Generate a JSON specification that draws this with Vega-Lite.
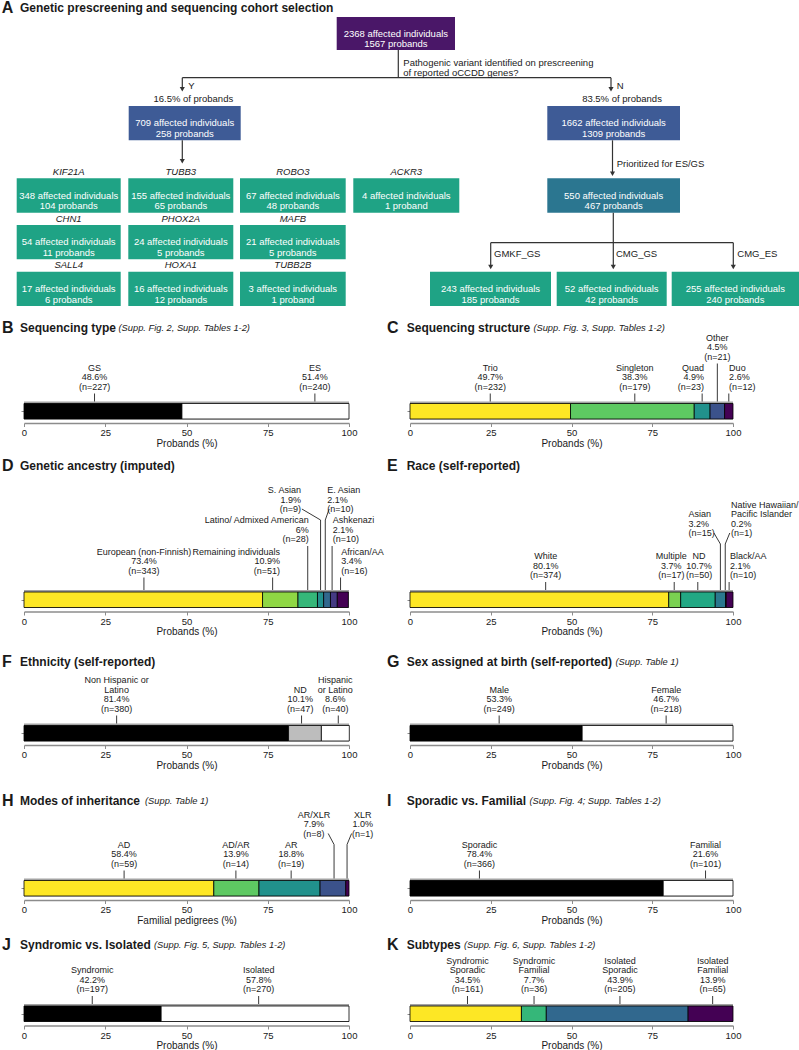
{
"$schema": "https://vega.github.io/schema/vega-lite/v6.json",
"padding": 0,
"background": "white",
"columns": 4,
"spacing": 0,
"bounds": "flush",
"resolve": {"scale": {"color": "independent"}},
"config": {
  "view": {"stroke": null},
  "font": "Liberation Sans",
  "text": {"font": "Liberation Sans", "color": "#1a1a1a", "lineBreak": "\n"},
  "axis": {"grid": false, "domainColor": "#8c8c8c", "tickColor": "#8c8c8c", "labelFont": "Liberation Sans", "labelFontSize": 9.5, "labelColor": "#1a1a1a", "titleFont": "Liberation Sans", "titleFontSize": 10, "titleFontWeight": "normal", "titleColor": "#1a1a1a", "labelFlush": false, "labelOverlap": false},
  "style": {
    "lbl": {"fontSize": 9, "baseline": "bottom", "lineHeight": 9.6},
    "ttl": {"fontSize": 12, "fontWeight": "bold", "baseline": "middle", "align": "left"},
    "let": {"fontSize": 16, "fontWeight": "bold", "baseline": "middle", "align": "left"},
    "note": {"fontSize": 9.3, "fontStyle": "italic", "baseline": "middle", "align": "left"},
    "lead": {"color": "#222222", "strokeWidth": 0.9}
  }
},
"datasets": {
  "bars": [
    {"panel":"B","idx":1,"cat":"GS","pct":48.6,"plab":"48.6%","n":227,"tier":1,"al":"c","at":21.7},
    {"panel":"B","idx":2,"cat":"ES","pct":51.4,"plab":"51.4%","n":240,"tier":1,"al":"c","at":89.5},
    {"panel":"C","idx":1,"cat":"Trio","pct":49.7,"plab":"49.7%","n":232,"tier":1,"al":"c"},
    {"panel":"C","idx":2,"cat":"Singleton","pct":38.3,"plab":"38.3%","n":179,"tier":1,"al":"c","at":69.6},
    {"panel":"C","idx":3,"cat":"Quad","pct":4.9,"plab":"4.9%","n":23,"tier":1,"al":"r","tx":91.0},
    {"panel":"C","idx":4,"cat":"Other","pct":4.5,"plab":"4.5%","n":21,"tier":2,"al":"c"},
    {"panel":"C","idx":5,"cat":"Duo","pct":2.6,"plab":"2.6%","n":12,"tier":1,"al":"l","tx":98.8},
    {"panel":"D","idx":1,"cat":"European (non-Finnish)","pct":73.4,"plab":"73.4%","n":343,"tier":1.15,"al":"c","at":36.9},
    {"panel":"D","idx":2,"cat":"Remaining individuals","pct":10.9,"plab":"10.9%","n":51,"tier":1.15,"al":"r","at":76.5,"tx":78.8},
    {"panel":"D","idx":3,"cat":"Latino/ Admixed American","pct":6,"plab":"6%","n":28,"tier":2.2,"al":"r","tx":87.6},
    {"panel":"D","idx":4,"cat":"S. Asian","pct":1.9,"plab":"1.9%","n":9,"tier":3.2,"al":"r","kx":85.5,"tx":85.2},
    {"panel":"D","idx":5,"cat":"E. Asian","pct":2.1,"plab":"2.1%","n":10,"tier":3.2,"al":"l","at":92.7,"kx":93.9,"tx":93.3},
    {"panel":"D","idx":6,"cat":"Ashkenazi","pct":2.1,"plab":"2.1%","n":10,"tier":2.2,"al":"l","at":94.8,"tx":95.0},
    {"panel":"D","idx":7,"cat":"African/AA","pct":3.4,"plab":"3.4%","n":16,"tier":1.15,"al":"l","at":97.4,"tx":97.6},
    {"panel":"E","idx":1,"cat":"White","pct":80.1,"plab":"80.1%","n":374,"tier":1,"al":"c","at":42.0},
    {"panel":"E","idx":2,"cat":"Multiple","pct":3.7,"plab":"3.7%","n":17,"tier":1,"al":"c","at":81.8,"tx":80.9},
    {"panel":"E","idx":3,"cat":"ND","pct":10.7,"plab":"10.7%","n":50,"tier":1,"al":"c","at":89.1,"tx":89.5},
    {"panel":"E","idx":4,"cat":"Asian","pct":3.2,"plab":"3.2%","n":15,"tier":2.4,"al":"l","kx":94.1,"tx":86.2},
    {"panel":"E","idx":5,"cat":"Native Hawaiian/\nPacific Islander","pct":0.2,"plab":"0.2%","n":1,"tier":2.4,"al":"l","at":97.6,"kx":99.0,"tx":99.4},
    {"panel":"E","idx":6,"cat":"Black/AA","pct":2.1,"plab":"2.1%","n":10,"tier":1,"al":"l","at":98.8,"tx":99.1},
    {"panel":"F","idx":1,"cat":"Non Hispanic or\nLatino","pct":81.4,"plab":"81.4%","n":380,"tier":1,"al":"c","at":28.5},
    {"panel":"F","idx":2,"cat":"ND","pct":10.1,"plab":"10.1%","n":47,"tier":1,"al":"c","at":85.4,"tx":85.0},
    {"panel":"F","idx":3,"cat":"Hispanic\nor Latino","pct":8.6,"plab":"8.6%","n":40,"tier":1,"al":"c","at":96.7,"tx":95.8},
    {"panel":"G","idx":1,"cat":"Male","pct":53.3,"plab":"53.3%","n":249,"tier":1,"al":"c","at":27.6},
    {"panel":"G","idx":2,"cat":"Female","pct":46.7,"plab":"46.7%","n":218,"tier":1,"al":"c","at":79.3},
    {"panel":"H","idx":1,"cat":"AD","pct":58.4,"plab":"58.4%","n":59,"tier":1,"al":"c","at":30.8},
    {"panel":"H","idx":2,"cat":"AD/AR","pct":13.9,"plab":"13.9%","n":14,"tier":1,"al":"c","at":65.2},
    {"panel":"H","idx":3,"cat":"AR","pct":18.8,"plab":"18.8%","n":19,"tier":1,"al":"c","at":82.2},
    {"panel":"H","idx":4,"cat":"AR/XLR","pct":7.9,"plab":"7.9%","n":8,"tier":2,"al":"c","at":95.4,"kx":93.6,"tx":89.2},
    {"panel":"H","idx":5,"cat":"XLR","pct":1.0,"plab":"1.0%","n":1,"tier":2,"al":"c","at":99.4,"kx":100.8,"tx":104.2},
    {"panel":"I","idx":1,"cat":"Sporadic","pct":78.4,"plab":"78.4%","n":366,"tier":1,"al":"c","at":21.5},
    {"panel":"I","idx":2,"cat":"Familial","pct":21.6,"plab":"21.6%","n":101,"tier":1,"al":"c","at":91.5},
    {"panel":"J","idx":1,"cat":"Syndromic","pct":42.2,"plab":"42.2%","n":197,"tier":1,"al":"c","at":21.0},
    {"panel":"J","idx":2,"cat":"Isolated","pct":57.8,"plab":"57.8%","n":270,"tier":1,"al":"c","at":72.2},
    {"panel":"K","idx":1,"cat":"Syndromic\nSporadic","pct":34.5,"plab":"34.5%","n":161,"tier":1,"al":"c","at":17.8},
    {"panel":"K","idx":2,"cat":"Syndromic\nFamilial","pct":7.7,"plab":"7.7%","n":36,"tier":1,"al":"c","at":38.4},
    {"panel":"K","idx":3,"cat":"Isolated\nSporadic","pct":43.9,"plab":"43.9%","n":205,"tier":1,"al":"c","at":65.0},
    {"panel":"K","idx":4,"cat":"Isolated\nFamilial","pct":13.9,"plab":"13.9%","n":65,"tier":1,"al":"c","at":93.7}
  ],
  "nodes": [
    {"kind":"all","x1":336.7,"x2":455,"y1":16,"y2":49,"l1":"2368 affected individuals","l2":"1567 probands"},
    {"kind":"pre","x1":128.7,"x2":240.7,"y1":105,"y2":139.3,"l1":"709 affected individuals","l2":"258 probands"},
    {"kind":"pre","x1":547.3,"x2":680,"y1":105,"y2":139.3,"l1":"1662 affected individuals","l2":"1309 probands"},
    {"kind":"prio","x1":547.3,"x2":680,"y1":177.3,"y2":211.7,"l1":"550 affected individuals","l2":"467 probands"},
    {"kind":"grp","gene":"KIF21A","x1":16.7,"x2":120.7,"y1":177.3,"y2":211.7,"l1":"348 affected individuals","l2":"104 probands"},
    {"kind":"grp","gene":"TUBB3","x1":128.3,"x2":233.3,"y1":177.3,"y2":211.7,"l1":"155 affected individuals","l2":"65 probands"},
    {"kind":"grp","gene":"ROBO3","x1":240,"x2":345.7,"y1":177.3,"y2":211.7,"l1":"67 affected individuals","l2":"48 probands"},
    {"kind":"grp","gene":"ACKR3","x1":353.3,"x2":459.3,"y1":177.3,"y2":211.7,"l1":"4 affected individuals","l2":"1 proband"},
    {"kind":"grp","gene":"CHN1","x1":16.7,"x2":120.7,"y1":224,"y2":258.3,"l1":"54 affected individuals","l2":"11 probands"},
    {"kind":"grp","gene":"PHOX2A","x1":128.3,"x2":233.3,"y1":224,"y2":258.3,"l1":"24 affected individuals","l2":"5 probands"},
    {"kind":"grp","gene":"MAFB","x1":240,"x2":345.7,"y1":224,"y2":258.3,"l1":"21 affected individuals","l2":"5 probands"},
    {"kind":"grp","gene":"SALL4","x1":16.7,"x2":120.7,"y1":270.7,"y2":305,"l1":"17 affected individuals","l2":"6 probands"},
    {"kind":"grp","gene":"HOXA1","x1":128.3,"x2":233.3,"y1":270.7,"y2":305,"l1":"16 affected individuals","l2":"12 probands"},
    {"kind":"grp","gene":"TUBB2B","x1":240,"x2":345.7,"y1":270.7,"y2":305,"l1":"3 affected individuals","l2":"1 proband"},
    {"kind":"grp","x1":430,"x2":551,"y1":270.7,"y2":305,"l1":"243 affected individuals","l2":"185 probands"},
    {"kind":"grp","x1":556.7,"x2":666.7,"y1":270.7,"y2":305,"l1":"52 affected individuals","l2":"42 probands"},
    {"kind":"grp","x1":671.7,"x2":799,"y1":270.7,"y2":305,"l1":"255 affected individuals","l2":"240 probands"}
  ],
  "edges": [
    {"x":398.3,"y":49,"x2":398.3,"y2":76.7,"arrow":false},
    {"x":182.3,"y":76.7,"x2":611,"y2":76.7,"arrow":false},
    {"x":182.3,"y":76.7,"x2":182.3,"y2":88.2,"arrow":true},
    {"x":611,"y":76.7,"x2":611,"y2":88.2,"arrow":true},
    {"x":182.3,"y":139.3,"x2":182.3,"y2":160.3,"arrow":true},
    {"x":612.5,"y":139.3,"x2":612.5,"y2":172.7,"arrow":true},
    {"x":613.3,"y":211.7,"x2":613.3,"y2":241.7,"arrow":false},
    {"x":490.7,"y":241.7,"x2":733.3,"y2":241.7,"arrow":false},
    {"x":490.7,"y":241.7,"x2":490.7,"y2":266,"arrow":true},
    {"x":613.3,"y":241.7,"x2":613.3,"y2":266,"arrow":true},
    {"x":733.3,"y":241.7,"x2":733.3,"y2":266,"arrow":true}
  ],
  "ftext": [
    {"t":"Pathogenic variant identified on prescreening\nof reported oCCDD genes?","x":403.3,"y":62.3,"al":"l"},
    {"t":"Y","x":188.3,"y":85,"al":"l"},
    {"t":"N","x":616.7,"y":85,"al":"l"},
    {"t":"16.5% of probands","x":193.3,"y":97.7,"al":"c"},
    {"t":"83.5% of probands","x":622,"y":97.7,"al":"c"},
    {"t":"Prioritized for ES/GS","x":616.7,"y":163.3,"al":"l"},
    {"t":"GMKF_GS","x":494,"y":252.7,"al":"l"},
    {"t":"CMG_GS","x":616,"y":252.7,"al":"l"},
    {"t":"CMG_ES","x":737.3,"y":252.7,"al":"l"}
  ]
},
"concat": [
{
  "width": 24, "height": 306,
  "layer": [
    {"data": {"name": "nodes"}, "mark": {"type": "rect"},
     "encoding": {
       "x": {"field": "x1", "type": "quantitative", "scale": {"domain": [0, 24]}, "axis": null},
       "x2": {"field": "x2"},
       "y": {"field": "y1", "type": "quantitative", "scale": {"domain": [0, 306], "reverse": true}, "axis": null},
       "y2": {"field": "y2"},
       "color": {"field": "kind", "type": "nominal", "scale": {"domain": ["all", "pre", "prio", "grp"], "range": ["#4a1768", "#3e5b96", "#2b7690", "#1fa385"]}, "legend": null}}},
    {"data": {"name": "nodes"},
     "transform": [{"calculate": "(datum.x1 + datum.x2) / 2", "as": "cx"}, {"calculate": "(datum.y1 + datum.y2) / 2", "as": "cy"}, {"calculate": "datum.l1 + '\\n' + datum.l2", "as": "t"}],
     "mark": {"type": "text", "color": "white", "fontSize": 9.5, "lineHeight": 10.7, "baseline": "middle", "align": "center"},
     "encoding": {
       "x": {"field": "cx", "type": "quantitative", "scale": {"domain": [0, 24]}, "axis": null},
       "y": {"field": "cy", "type": "quantitative", "scale": {"domain": [0, 306], "reverse": true}, "axis": null},
       "text": {"field": "t"}}},
    {"data": {"name": "nodes"},
     "transform": [{"filter": "isValid(datum.gene)"}, {"calculate": "(datum.x1 + datum.x2) / 2", "as": "cx"}, {"calculate": "datum.y1 - 6.3", "as": "gy"}],
     "mark": {"type": "text", "fontStyle": "italic", "fontSize": 9.5, "baseline": "middle", "align": "center"},
     "encoding": {
       "x": {"field": "cx", "type": "quantitative", "scale": {"domain": [0, 24]}, "axis": null},
       "y": {"field": "gy", "type": "quantitative", "scale": {"domain": [0, 306], "reverse": true}, "axis": null},
       "text": {"field": "gene"}}},
    {"data": {"name": "edges"}, "mark": {"type": "rule", "color": "#333333", "strokeWidth": 1.2},
     "encoding": {
       "x": {"field": "x", "type": "quantitative", "scale": {"domain": [0, 24]}, "axis": null},
       "x2": {"field": "x2"},
       "y": {"field": "y", "type": "quantitative", "scale": {"domain": [0, 306], "reverse": true}, "axis": null},
       "y2": {"field": "y2"}}},
    {"data": {"name": "edges"}, "transform": [{"filter": "datum.arrow"}],
     "mark": {"type": "point", "shape": "triangle-down", "filled": true, "color": "#333333", "size": 26, "opacity": 1},
     "encoding": {
       "x": {"field": "x2", "type": "quantitative", "scale": {"domain": [0, 24]}, "axis": null},
       "y": {"field": "y2", "type": "quantitative", "scale": {"domain": [0, 306], "reverse": true}, "axis": null}}},
    {"data": {"name": "ftext"}, "transform": [{"filter": "datum.al === 'l'"}],
     "mark": {"type": "text", "align": "left", "baseline": "middle", "fontSize": 9.5, "lineHeight": 10},
     "encoding": {
       "x": {"field": "x", "type": "quantitative", "scale": {"domain": [0, 24]}, "axis": null},
       "y": {"field": "y", "type": "quantitative", "scale": {"domain": [0, 306], "reverse": true}, "axis": null},
       "text": {"field": "t"}}},
    {"data": {"name": "ftext"}, "transform": [{"filter": "datum.al === 'c'"}],
     "mark": {"type": "text", "align": "center", "baseline": "middle", "fontSize": 9.5},
     "encoding": {
       "x": {"field": "x", "type": "quantitative", "scale": {"domain": [0, 24]}, "axis": null},
       "y": {"field": "y", "type": "quantitative", "scale": {"domain": [0, 306], "reverse": true}, "axis": null},
       "text": {"field": "t"}}},
    {"data": {"values": [{"px": 0, "py": 7.3}]}, "mark": {"type": "text", "style": "let", "dx": 1.7},
     "encoding": {
       "x": {"field": "px", "type": "quantitative", "scale": {"domain": [0, 24]}, "axis": null},
       "y": {"field": "py", "type": "quantitative", "scale": {"domain": [0, 306], "reverse": true}, "axis": null},
       "text": {"value": "A"}}},
    {"data": {"values": [{"px": 0, "py": 7.3}]}, "mark": {"type": "text", "style": "ttl", "dx": 20},
     "encoding": {
       "x": {"field": "px", "type": "quantitative", "scale": {"domain": [0, 24]}, "axis": null},
       "y": {"field": "py", "type": "quantitative", "scale": {"domain": [0, 306], "reverse": true}, "axis": null},
       "text": {"value": "Genetic prescreening and sequencing cohort selection"}}}
  ]
},
{"width": 1, "height": 1, "data": {"values": []}, "mark": "point"},
{"width": 1, "height": 1, "data": {"values": []}, "mark": "point"},
{"width": 1, "height": 1, "data": {"values": []}, "mark": "point"},
{"width": 24, "height": 116, "data": {"values": []}, "mark": "point"},
{
  "width": 325, "height": 116,
  "data": {"name": "bars"},
  "transform": [
    {"filter": "datum.panel === 'B'"},
    {"stack": "pct", "groupby": ["panel"], "sort": [{"field": "idx", "order": "ascending"}], "as": ["x0", "x1"]},
    {"calculate": "isValid(datum.at) ? datum.at : (datum.x0 + datum.x1) / 2", "as": "ax"},
    {"calculate": "isValid(datum.tx) ? datum.tx : datum.ax", "as": "lx"},
    {"calculate": "30 * (datum.tier - 1)", "as": "up"},
    {"calculate": "(isValid(datum.kx) ? 25.5 : 29.5) + datum.up", "as": "yk"},
    {"calculate": "datum.cat + '\\n' + datum.plab + '\\n(n=' + datum.n + ')'", "as": "lab"},
    {"calculate": "31 + datum.up + 9.6 * (length(split(datum.lab, '\\n')) - 1)", "as": "yt"},
    {"calculate": "0", "as": "f0"}, {"calculate": "100", "as": "f1"},
    {"calculate": "3.5", "as": "g0"}, {"calculate": "21.5", "as": "g1"},
    {"calculate": "4", "as": "b0"}, {"calculate": "19.5", "as": "b1"},
    {"calculate": "95", "as": "ty"}
  ],
  "layer": [
    {"transform": [{"filter": "datum.idx === 1"}], "mark": {"type": "rect", "color": "#a3a3a3"},
     "encoding": {"x": {"field": "f0", "type": "quantitative", "scale": {"domain": [0, 100]}}, "x2": {"field": "f1"},
                  "y": {"field": "g0", "type": "quantitative", "scale": {"domain": [0, 116]}}, "y2": {"field": "g1"}}},
    {"mark": {"type": "rect", "stroke": "#000000", "strokeWidth": 0.8},
     "encoding": {
       "x": {"field": "x0", "type": "quantitative", "scale": {"domain": [0, 100]}, "axis": {"values": [0, 25, 50, 75, 100], "title": "Probands (%)", "tickSize": 3.5, "labelPadding": 1, "titlePadding": 1, "domainWidth": 1.4}},
       "x2": {"field": "x1"},
       "y": {"field": "b0", "type": "quantitative", "scale": {"domain": [0, 116]}, "axis": {"values": [11.75], "labels": false, "domain": false, "tickSize": 3, "title": null}},
       "y2": {"field": "b1"},
       "color": {"field": "idx", "type": "nominal", "scale": {"domain": [1, 2], "range": ["#000000", "#ffffff"]}, "legend": null}}},
    {"mark": {"type": "rule", "style": "lead"},
     "encoding": {"x": {"field": "ax", "type": "quantitative", "scale": {"domain": [0, 100]}},
                  "y": {"field": "g1", "type": "quantitative", "scale": {"domain": [0, 116]}}, "y2": {"field": "yk"}}},
    {"transform": [{"filter": "datum.al === 'c'"}], "mark": {"type": "text", "style": "lbl", "align": "center"},
     "encoding": {"x": {"field": "lx", "type": "quantitative", "scale": {"domain": [0, 100]}},
                  "y": {"field": "yt", "type": "quantitative", "scale": {"domain": [0, 116]}}, "text": {"field": "lab"}}},
    {"transform": [{"filter": "datum.idx === 1"}], "mark": {"type": "text", "style": "let", "dx": -22},
     "encoding": {"x": {"field": "f0", "type": "quantitative", "scale": {"domain": [0, 100]}},
                  "y": {"field": "ty", "type": "quantitative", "scale": {"domain": [0, 116]}}, "text": {"value": "B"}}},
    {"transform": [{"filter": "datum.idx === 1"}], "mark": {"type": "text", "style": "ttl", "dx": -4},
     "encoding": {"x": {"field": "f0", "type": "quantitative", "scale": {"domain": [0, 100]}},
                  "y": {"field": "ty", "type": "quantitative", "scale": {"domain": [0, 116]}}, "text": {"value": "Sequencing type"}}},
    {"transform": [{"filter": "datum.idx === 1"}], "mark": {"type": "text", "style": "note", "dx": 94.5},
     "encoding": {"x": {"field": "f0", "type": "quantitative", "scale": {"domain": [0, 100]}},
                  "y": {"field": "ty", "type": "quantitative", "scale": {"domain": [0, 116]}}, "text": {"value": "(Supp. Fig. 2, Supp. Tables 1-2)"}}}
  ]
},
{"width": 61, "height": 116, "data": {"values": []}, "mark": "point"},
{
  "width": 323, "height": 116,
  "data": {"name": "bars"},
  "transform": [
    {"filter": "datum.panel === 'C'"},
    {"stack": "pct", "groupby": ["panel"], "sort": [{"field": "idx", "order": "ascending"}], "as": ["x0", "x1"]},
    {"calculate": "isValid(datum.at) ? datum.at : (datum.x0 + datum.x1) / 2", "as": "ax"},
    {"calculate": "isValid(datum.tx) ? datum.tx : datum.ax", "as": "lx"},
    {"calculate": "30 * (datum.tier - 1)", "as": "up"},
    {"calculate": "(isValid(datum.kx) ? 25.5 : 29.5) + datum.up", "as": "yk"},
    {"calculate": "datum.cat + '\\n' + datum.plab + '\\n(n=' + datum.n + ')'", "as": "lab"},
    {"calculate": "31 + datum.up + 9.6 * (length(split(datum.lab, '\\n')) - 1)", "as": "yt"},
    {"calculate": "0", "as": "f0"}, {"calculate": "100", "as": "f1"},
    {"calculate": "3.5", "as": "g0"}, {"calculate": "21.5", "as": "g1"},
    {"calculate": "4", "as": "b0"}, {"calculate": "19.5", "as": "b1"},
    {"calculate": "95", "as": "ty"}
  ],
  "layer": [
    {"transform": [{"filter": "datum.idx === 1"}], "mark": {"type": "rect", "color": "#a3a3a3"},
     "encoding": {"x": {"field": "f0", "type": "quantitative", "scale": {"domain": [0, 100]}}, "x2": {"field": "f1"},
                  "y": {"field": "g0", "type": "quantitative", "scale": {"domain": [0, 116]}}, "y2": {"field": "g1"}}},
    {"mark": {"type": "rect", "stroke": "#000000", "strokeWidth": 0.8},
     "encoding": {
       "x": {"field": "x0", "type": "quantitative", "scale": {"domain": [0, 100]}, "axis": {"values": [0, 25, 50, 75, 100], "title": "Probands (%)", "tickSize": 3.5, "labelPadding": 1, "titlePadding": 1, "domainWidth": 1.4}},
       "x2": {"field": "x1"},
       "y": {"field": "b0", "type": "quantitative", "scale": {"domain": [0, 116]}, "axis": {"values": [11.75], "labels": false, "domain": false, "tickSize": 3, "title": null}},
       "y2": {"field": "b1"},
       "color": {"field": "idx", "type": "nominal", "scale": {"domain": [1, 2, 3, 4, 5], "range": ["#FDE725", "#5EC962", "#21918C", "#3B528B", "#440154"]}, "legend": null}}},
    {"mark": {"type": "rule", "style": "lead"},
     "encoding": {"x": {"field": "ax", "type": "quantitative", "scale": {"domain": [0, 100]}},
                  "y": {"field": "g1", "type": "quantitative", "scale": {"domain": [0, 116]}}, "y2": {"field": "yk"}}},
    {"transform": [{"filter": "datum.al === 'c'"}], "mark": {"type": "text", "style": "lbl", "align": "center"},
     "encoding": {"x": {"field": "lx", "type": "quantitative", "scale": {"domain": [0, 100]}},
                  "y": {"field": "yt", "type": "quantitative", "scale": {"domain": [0, 116]}}, "text": {"field": "lab"}}},
    {"transform": [{"filter": "datum.al === 'l'"}], "mark": {"type": "text", "style": "lbl", "align": "left"},
     "encoding": {"x": {"field": "lx", "type": "quantitative", "scale": {"domain": [0, 100]}},
                  "y": {"field": "yt", "type": "quantitative", "scale": {"domain": [0, 116]}}, "text": {"field": "lab"}}},
    {"transform": [{"filter": "datum.al === 'r'"}], "mark": {"type": "text", "style": "lbl", "align": "right"},
     "encoding": {"x": {"field": "lx", "type": "quantitative", "scale": {"domain": [0, 100]}},
                  "y": {"field": "yt", "type": "quantitative", "scale": {"domain": [0, 116]}}, "text": {"field": "lab"}}},
    {"transform": [{"filter": "datum.idx === 1"}], "mark": {"type": "text", "style": "let", "dx": -23},
     "encoding": {"x": {"field": "f0", "type": "quantitative", "scale": {"domain": [0, 100]}},
                  "y": {"field": "ty", "type": "quantitative", "scale": {"domain": [0, 116]}}, "text": {"value": "C"}}},
    {"transform": [{"filter": "datum.idx === 1"}], "mark": {"type": "text", "style": "ttl", "dx": -3.3},
     "encoding": {"x": {"field": "f0", "type": "quantitative", "scale": {"domain": [0, 100]}},
                  "y": {"field": "ty", "type": "quantitative", "scale": {"domain": [0, 116]}}, "text": {"value": "Sequencing structure"}}},
    {"transform": [{"filter": "datum.idx === 1"}], "mark": {"type": "text", "style": "note", "dx": 123.4},
     "encoding": {"x": {"field": "f0", "type": "quantitative", "scale": {"domain": [0, 100]}},
                  "y": {"field": "ty", "type": "quantitative", "scale": {"domain": [0, 116]}}, "text": {"value": "(Supp. Fig. 3, Supp. Tables 1-2)"}}}
  ]
},
{"width": 24, "height": 188.5, "data": {"values": []}, "mark": "point"},
{
  "width": 325, "height": 188.5,
  "data": {"name": "bars"},
  "transform": [
    {"filter": "datum.panel === 'D'"},
    {"stack": "pct", "groupby": ["panel"], "sort": [{"field": "idx", "order": "ascending"}], "as": ["x0", "x1"]},
    {"calculate": "isValid(datum.at) ? datum.at : (datum.x0 + datum.x1) / 2", "as": "ax"},
    {"calculate": "isValid(datum.tx) ? datum.tx : datum.ax", "as": "lx"},
    {"calculate": "30 * (datum.tier - 1)", "as": "up"},
    {"calculate": "(isValid(datum.kx) ? 25.5 : 29.5) + datum.up", "as": "yk"},
    {"calculate": "isValid(datum.kx) ? datum.kx : datum.ax", "as": "ex"},
    {"calculate": "36.5 + datum.up", "as": "ye"},
    {"calculate": "datum.cat + '\\n' + datum.plab + '\\n(n=' + datum.n + ')'", "as": "lab"},
    {"calculate": "31 + datum.up + 9.6 * (length(split(datum.lab, '\\n')) - 1)", "as": "yt"},
    {"calculate": "0", "as": "f0"}, {"calculate": "100", "as": "f1"},
    {"calculate": "3.5", "as": "g0"}, {"calculate": "21.5", "as": "g1"},
    {"calculate": "4", "as": "b0"}, {"calculate": "19.5", "as": "b1"},
    {"calculate": "145.5", "as": "ty"}
  ],
  "layer": [
    {"transform": [{"filter": "datum.idx === 1"}], "mark": {"type": "rect", "color": "#a3a3a3"},
     "encoding": {"x": {"field": "f0", "type": "quantitative", "scale": {"domain": [0, 100]}}, "x2": {"field": "f1"},
                  "y": {"field": "g0", "type": "quantitative", "scale": {"domain": [0, 188.5]}}, "y2": {"field": "g1"}}},
    {"mark": {"type": "rect", "stroke": "#000000", "strokeWidth": 0.8},
     "encoding": {
       "x": {"field": "x0", "type": "quantitative", "scale": {"domain": [0, 100]}, "axis": {"values": [0, 25, 50, 75, 100], "title": "Probands (%)", "tickSize": 3.5, "labelPadding": 1, "titlePadding": 1, "domainWidth": 1.4}},
       "x2": {"field": "x1"},
       "y": {"field": "b0", "type": "quantitative", "scale": {"domain": [0, 188.5]}, "axis": {"values": [11.75], "labels": false, "domain": false, "tickSize": 3, "title": null}},
       "y2": {"field": "b1"},
       "color": {"field": "idx", "type": "nominal", "scale": {"domain": [1, 2, 3, 4, 5, 6, 7], "range": ["#FDE725", "#8FD744", "#35B779", "#21908D", "#31688E", "#443A83", "#440154"]}, "legend": null}}},
    {"mark": {"type": "rule", "style": "lead"},
     "encoding": {"x": {"field": "ax", "type": "quantitative", "scale": {"domain": [0, 100]}},
                  "y": {"field": "g1", "type": "quantitative", "scale": {"domain": [0, 188.5]}}, "y2": {"field": "yk"}}},
    {"transform": [{"filter": "isValid(datum.kx)"}], "mark": {"type": "rule", "style": "lead"},
     "encoding": {"x": {"field": "ax", "type": "quantitative", "scale": {"domain": [0, 100]}}, "x2": {"field": "ex"},
                  "y": {"field": "yk", "type": "quantitative", "scale": {"domain": [0, 188.5]}}, "y2": {"field": "ye"}}},
    {"transform": [{"filter": "datum.al === 'c'"}], "mark": {"type": "text", "style": "lbl", "align": "center"},
     "encoding": {"x": {"field": "lx", "type": "quantitative", "scale": {"domain": [0, 100]}},
                  "y": {"field": "yt", "type": "quantitative", "scale": {"domain": [0, 188.5]}}, "text": {"field": "lab"}}},
    {"transform": [{"filter": "datum.al === 'l'"}], "mark": {"type": "text", "style": "lbl", "align": "left"},
     "encoding": {"x": {"field": "lx", "type": "quantitative", "scale": {"domain": [0, 100]}},
                  "y": {"field": "yt", "type": "quantitative", "scale": {"domain": [0, 188.5]}}, "text": {"field": "lab"}}},
    {"transform": [{"filter": "datum.al === 'r'"}], "mark": {"type": "text", "style": "lbl", "align": "right"},
     "encoding": {"x": {"field": "lx", "type": "quantitative", "scale": {"domain": [0, 100]}},
                  "y": {"field": "yt", "type": "quantitative", "scale": {"domain": [0, 188.5]}}, "text": {"field": "lab"}}},
    {"transform": [{"filter": "datum.idx === 1"}], "mark": {"type": "text", "style": "let", "dx": -22},
     "encoding": {"x": {"field": "f0", "type": "quantitative", "scale": {"domain": [0, 100]}},
                  "y": {"field": "ty", "type": "quantitative", "scale": {"domain": [0, 188.5]}}, "text": {"value": "D"}}},
    {"transform": [{"filter": "datum.idx === 1"}], "mark": {"type": "text", "style": "ttl", "dx": -4},
     "encoding": {"x": {"field": "f0", "type": "quantitative", "scale": {"domain": [0, 100]}},
                  "y": {"field": "ty", "type": "quantitative", "scale": {"domain": [0, 188.5]}}, "text": {"value": "Genetic ancestry (imputed)"}}}
  ]
},
{"width": 61, "height": 188.5, "data": {"values": []}, "mark": "point"},
{
  "width": 323, "height": 188.5,
  "data": {"name": "bars"},
  "transform": [
    {"filter": "datum.panel === 'E'"},
    {"stack": "pct", "groupby": ["panel"], "sort": [{"field": "idx", "order": "ascending"}], "as": ["x0", "x1"]},
    {"calculate": "isValid(datum.at) ? datum.at : (datum.x0 + datum.x1) / 2", "as": "ax"},
    {"calculate": "isValid(datum.tx) ? datum.tx : datum.ax", "as": "lx"},
    {"calculate": "30 * (datum.tier - 1)", "as": "up"},
    {"calculate": "(isValid(datum.kx) ? 25.5 : 29.5) + datum.up", "as": "yk"},
    {"calculate": "isValid(datum.kx) ? datum.kx : datum.ax", "as": "ex"},
    {"calculate": "36.5 + datum.up", "as": "ye"},
    {"calculate": "datum.cat + '\\n' + datum.plab + '\\n(n=' + datum.n + ')'", "as": "lab"},
    {"calculate": "31 + datum.up + 9.6 * (length(split(datum.lab, '\\n')) - 1)", "as": "yt"},
    {"calculate": "0", "as": "f0"}, {"calculate": "100", "as": "f1"},
    {"calculate": "3.5", "as": "g0"}, {"calculate": "21.5", "as": "g1"},
    {"calculate": "4", "as": "b0"}, {"calculate": "19.5", "as": "b1"},
    {"calculate": "145.5", "as": "ty"}
  ],
  "layer": [
    {"transform": [{"filter": "datum.idx === 1"}], "mark": {"type": "rect", "color": "#a3a3a3"},
     "encoding": {"x": {"field": "f0", "type": "quantitative", "scale": {"domain": [0, 100]}}, "x2": {"field": "f1"},
                  "y": {"field": "g0", "type": "quantitative", "scale": {"domain": [0, 188.5]}}, "y2": {"field": "g1"}}},
    {"mark": {"type": "rect", "stroke": "#000000", "strokeWidth": 0.8},
     "encoding": {
       "x": {"field": "x0", "type": "quantitative", "scale": {"domain": [0, 100]}, "axis": {"values": [0, 25, 50, 75, 100], "title": "Probands (%)", "tickSize": 3.5, "labelPadding": 1, "titlePadding": 1, "domainWidth": 1.4}},
       "x2": {"field": "x1"},
       "y": {"field": "b0", "type": "quantitative", "scale": {"domain": [0, 188.5]}, "axis": {"values": [11.75], "labels": false, "domain": false, "tickSize": 3, "title": null}},
       "y2": {"field": "b1"},
       "color": {"field": "idx", "type": "nominal", "scale": {"domain": [1, 2, 3, 4, 5, 6], "range": ["#FDE725", "#7AD151", "#22A884", "#2A788E", "#414487", "#440154"]}, "legend": null}}},
    {"mark": {"type": "rule", "style": "lead"},
     "encoding": {"x": {"field": "ax", "type": "quantitative", "scale": {"domain": [0, 100]}},
                  "y": {"field": "g1", "type": "quantitative", "scale": {"domain": [0, 188.5]}}, "y2": {"field": "yk"}}},
    {"transform": [{"filter": "isValid(datum.kx)"}], "mark": {"type": "rule", "style": "lead"},
     "encoding": {"x": {"field": "ax", "type": "quantitative", "scale": {"domain": [0, 100]}}, "x2": {"field": "ex"},
                  "y": {"field": "yk", "type": "quantitative", "scale": {"domain": [0, 188.5]}}, "y2": {"field": "ye"}}},
    {"transform": [{"filter": "datum.al === 'c'"}], "mark": {"type": "text", "style": "lbl", "align": "center"},
     "encoding": {"x": {"field": "lx", "type": "quantitative", "scale": {"domain": [0, 100]}},
                  "y": {"field": "yt", "type": "quantitative", "scale": {"domain": [0, 188.5]}}, "text": {"field": "lab"}}},
    {"transform": [{"filter": "datum.al === 'l'"}], "mark": {"type": "text", "style": "lbl", "align": "left"},
     "encoding": {"x": {"field": "lx", "type": "quantitative", "scale": {"domain": [0, 100]}},
                  "y": {"field": "yt", "type": "quantitative", "scale": {"domain": [0, 188.5]}}, "text": {"field": "lab"}}},
    {"transform": [{"filter": "datum.idx === 1"}], "mark": {"type": "text", "style": "let", "dx": -23},
     "encoding": {"x": {"field": "f0", "type": "quantitative", "scale": {"domain": [0, 100]}},
                  "y": {"field": "ty", "type": "quantitative", "scale": {"domain": [0, 188.5]}}, "text": {"value": "E"}}},
    {"transform": [{"filter": "datum.idx === 1"}], "mark": {"type": "text", "style": "ttl", "dx": -3.3},
     "encoding": {"x": {"field": "f0", "type": "quantitative", "scale": {"domain": [0, 100]}},
                  "y": {"field": "ty", "type": "quantitative", "scale": {"domain": [0, 188.5]}}, "text": {"value": "Race (self-reported)"}}}
  ]
},
{"width": 24, "height": 133, "data": {"values": []}, "mark": "point"},
{
  "width": 325, "height": 133,
  "data": {"name": "bars"},
  "transform": [
    {"filter": "datum.panel === 'F'"},
    {"stack": "pct", "groupby": ["panel"], "sort": [{"field": "idx", "order": "ascending"}], "as": ["x0", "x1"]},
    {"calculate": "isValid(datum.at) ? datum.at : (datum.x0 + datum.x1) / 2", "as": "ax"},
    {"calculate": "isValid(datum.tx) ? datum.tx : datum.ax", "as": "lx"},
    {"calculate": "30 * (datum.tier - 1)", "as": "up"},
    {"calculate": "(isValid(datum.kx) ? 25.5 : 29.5) + datum.up", "as": "yk"},
    {"calculate": "datum.cat + '\\n' + datum.plab + '\\n(n=' + datum.n + ')'", "as": "lab"},
    {"calculate": "31 + datum.up + 9.6 * (length(split(datum.lab, '\\n')) - 1)", "as": "yt"},
    {"calculate": "0", "as": "f0"}, {"calculate": "100", "as": "f1"},
    {"calculate": "3.5", "as": "g0"}, {"calculate": "21.5", "as": "g1"},
    {"calculate": "4", "as": "b0"}, {"calculate": "19.5", "as": "b1"},
    {"calculate": "83.5", "as": "ty"}
  ],
  "layer": [
    {"transform": [{"filter": "datum.idx === 1"}], "mark": {"type": "rect", "color": "#a3a3a3"},
     "encoding": {"x": {"field": "f0", "type": "quantitative", "scale": {"domain": [0, 100]}}, "x2": {"field": "f1"},
                  "y": {"field": "g0", "type": "quantitative", "scale": {"domain": [0, 133]}}, "y2": {"field": "g1"}}},
    {"mark": {"type": "rect", "stroke": "#000000", "strokeWidth": 0.8},
     "encoding": {
       "x": {"field": "x0", "type": "quantitative", "scale": {"domain": [0, 100]}, "axis": {"values": [0, 25, 50, 75, 100], "title": "Probands (%)", "tickSize": 3.5, "labelPadding": 1, "titlePadding": 1, "domainWidth": 1.4}},
       "x2": {"field": "x1"},
       "y": {"field": "b0", "type": "quantitative", "scale": {"domain": [0, 133]}, "axis": {"values": [11.75], "labels": false, "domain": false, "tickSize": 3, "title": null}},
       "y2": {"field": "b1"},
       "color": {"field": "idx", "type": "nominal", "scale": {"domain": [1, 2, 3], "range": ["#000000", "#bdbdbd", "#ffffff"]}, "legend": null}}},
    {"mark": {"type": "rule", "style": "lead"},
     "encoding": {"x": {"field": "ax", "type": "quantitative", "scale": {"domain": [0, 100]}},
                  "y": {"field": "g1", "type": "quantitative", "scale": {"domain": [0, 133]}}, "y2": {"field": "yk"}}},
    {"transform": [{"filter": "datum.al === 'c'"}], "mark": {"type": "text", "style": "lbl", "align": "center"},
     "encoding": {"x": {"field": "lx", "type": "quantitative", "scale": {"domain": [0, 100]}},
                  "y": {"field": "yt", "type": "quantitative", "scale": {"domain": [0, 133]}}, "text": {"field": "lab"}}},
    {"transform": [{"filter": "datum.idx === 1"}], "mark": {"type": "text", "style": "let", "dx": -22},
     "encoding": {"x": {"field": "f0", "type": "quantitative", "scale": {"domain": [0, 100]}},
                  "y": {"field": "ty", "type": "quantitative", "scale": {"domain": [0, 133]}}, "text": {"value": "F"}}},
    {"transform": [{"filter": "datum.idx === 1"}], "mark": {"type": "text", "style": "ttl", "dx": -4},
     "encoding": {"x": {"field": "f0", "type": "quantitative", "scale": {"domain": [0, 100]}},
                  "y": {"field": "ty", "type": "quantitative", "scale": {"domain": [0, 133]}}, "text": {"value": "Ethnicity (self-reported)"}}}
  ]
},
{"width": 61, "height": 133, "data": {"values": []}, "mark": "point"},
{
  "width": 323, "height": 133,
  "data": {"name": "bars"},
  "transform": [
    {"filter": "datum.panel === 'G'"},
    {"stack": "pct", "groupby": ["panel"], "sort": [{"field": "idx", "order": "ascending"}], "as": ["x0", "x1"]},
    {"calculate": "isValid(datum.at) ? datum.at : (datum.x0 + datum.x1) / 2", "as": "ax"},
    {"calculate": "isValid(datum.tx) ? datum.tx : datum.ax", "as": "lx"},
    {"calculate": "30 * (datum.tier - 1)", "as": "up"},
    {"calculate": "(isValid(datum.kx) ? 25.5 : 29.5) + datum.up", "as": "yk"},
    {"calculate": "datum.cat + '\\n' + datum.plab + '\\n(n=' + datum.n + ')'", "as": "lab"},
    {"calculate": "31 + datum.up + 9.6 * (length(split(datum.lab, '\\n')) - 1)", "as": "yt"},
    {"calculate": "0", "as": "f0"}, {"calculate": "100", "as": "f1"},
    {"calculate": "3.5", "as": "g0"}, {"calculate": "21.5", "as": "g1"},
    {"calculate": "4", "as": "b0"}, {"calculate": "19.5", "as": "b1"},
    {"calculate": "83.5", "as": "ty"}
  ],
  "layer": [
    {"transform": [{"filter": "datum.idx === 1"}], "mark": {"type": "rect", "color": "#a3a3a3"},
     "encoding": {"x": {"field": "f0", "type": "quantitative", "scale": {"domain": [0, 100]}}, "x2": {"field": "f1"},
                  "y": {"field": "g0", "type": "quantitative", "scale": {"domain": [0, 133]}}, "y2": {"field": "g1"}}},
    {"mark": {"type": "rect", "stroke": "#000000", "strokeWidth": 0.8},
     "encoding": {
       "x": {"field": "x0", "type": "quantitative", "scale": {"domain": [0, 100]}, "axis": {"values": [0, 25, 50, 75, 100], "title": "Probands (%)", "tickSize": 3.5, "labelPadding": 1, "titlePadding": 1, "domainWidth": 1.4}},
       "x2": {"field": "x1"},
       "y": {"field": "b0", "type": "quantitative", "scale": {"domain": [0, 133]}, "axis": {"values": [11.75], "labels": false, "domain": false, "tickSize": 3, "title": null}},
       "y2": {"field": "b1"},
       "color": {"field": "idx", "type": "nominal", "scale": {"domain": [1, 2], "range": ["#000000", "#ffffff"]}, "legend": null}}},
    {"mark": {"type": "rule", "style": "lead"},
     "encoding": {"x": {"field": "ax", "type": "quantitative", "scale": {"domain": [0, 100]}},
                  "y": {"field": "g1", "type": "quantitative", "scale": {"domain": [0, 133]}}, "y2": {"field": "yk"}}},
    {"transform": [{"filter": "datum.al === 'c'"}], "mark": {"type": "text", "style": "lbl", "align": "center"},
     "encoding": {"x": {"field": "lx", "type": "quantitative", "scale": {"domain": [0, 100]}},
                  "y": {"field": "yt", "type": "quantitative", "scale": {"domain": [0, 133]}}, "text": {"field": "lab"}}},
    {"transform": [{"filter": "datum.idx === 1"}], "mark": {"type": "text", "style": "let", "dx": -23},
     "encoding": {"x": {"field": "f0", "type": "quantitative", "scale": {"domain": [0, 100]}},
                  "y": {"field": "ty", "type": "quantitative", "scale": {"domain": [0, 133]}}, "text": {"value": "G"}}},
    {"transform": [{"filter": "datum.idx === 1"}], "mark": {"type": "text", "style": "ttl", "dx": -3.3},
     "encoding": {"x": {"field": "f0", "type": "quantitative", "scale": {"domain": [0, 100]}},
                  "y": {"field": "ty", "type": "quantitative", "scale": {"domain": [0, 133]}}, "text": {"value": "Sex assigned at birth (self-reported)"}}},
    {"transform": [{"filter": "datum.idx === 1"}], "mark": {"type": "text", "style": "note", "dx": 205.4},
     "encoding": {"x": {"field": "f0", "type": "quantitative", "scale": {"domain": [0, 100]}},
                  "y": {"field": "ty", "type": "quantitative", "scale": {"domain": [0, 133]}}, "text": {"value": "(Supp. Table 1)"}}}
  ]
},
{"width": 24, "height": 155, "data": {"values": []}, "mark": "point"},
{
  "width": 325, "height": 155,
  "data": {"name": "bars"},
  "transform": [
    {"filter": "datum.panel === 'H'"},
    {"stack": "pct", "groupby": ["panel"], "sort": [{"field": "idx", "order": "ascending"}], "as": ["x0", "x1"]},
    {"calculate": "isValid(datum.at) ? datum.at : (datum.x0 + datum.x1) / 2", "as": "ax"},
    {"calculate": "isValid(datum.tx) ? datum.tx : datum.ax", "as": "lx"},
    {"calculate": "30 * (datum.tier - 1)", "as": "up"},
    {"calculate": "(isValid(datum.kx) ? 25.5 : 29.5) + datum.up", "as": "yk"},
    {"calculate": "isValid(datum.kx) ? datum.kx : datum.ax", "as": "ex"},
    {"calculate": "36.5 + datum.up", "as": "ye"},
    {"calculate": "datum.cat + '\\n' + datum.plab + '\\n(n=' + datum.n + ')'", "as": "lab"},
    {"calculate": "31 + datum.up + 9.6 * (length(split(datum.lab, '\\n')) - 1)", "as": "yt"},
    {"calculate": "0", "as": "f0"}, {"calculate": "100", "as": "f1"},
    {"calculate": "3.5", "as": "g0"}, {"calculate": "21.5", "as": "g1"},
    {"calculate": "4", "as": "b0"}, {"calculate": "19.5", "as": "b1"},
    {"calculate": "99.5", "as": "ty"}
  ],
  "layer": [
    {"transform": [{"filter": "datum.idx === 1"}], "mark": {"type": "rect", "color": "#a3a3a3"},
     "encoding": {"x": {"field": "f0", "type": "quantitative", "scale": {"domain": [0, 100]}}, "x2": {"field": "f1"},
                  "y": {"field": "g0", "type": "quantitative", "scale": {"domain": [0, 155]}}, "y2": {"field": "g1"}}},
    {"mark": {"type": "rect", "stroke": "#000000", "strokeWidth": 0.8},
     "encoding": {
       "x": {"field": "x0", "type": "quantitative", "scale": {"domain": [0, 100]}, "axis": {"values": [0, 25, 50, 75, 100], "title": "Familial pedigrees (%)", "tickSize": 3.5, "labelPadding": 1, "titlePadding": 1, "domainWidth": 1.4}},
       "x2": {"field": "x1"},
       "y": {"field": "b0", "type": "quantitative", "scale": {"domain": [0, 155]}, "axis": {"values": [11.75], "labels": false, "domain": false, "tickSize": 3, "title": null}},
       "y2": {"field": "b1"},
       "color": {"field": "idx", "type": "nominal", "scale": {"domain": [1, 2, 3, 4, 5], "range": ["#FDE725", "#5EC962", "#21918C", "#3B528B", "#440154"]}, "legend": null}}},
    {"mark": {"type": "rule", "style": "lead"},
     "encoding": {"x": {"field": "ax", "type": "quantitative", "scale": {"domain": [0, 100]}},
                  "y": {"field": "g1", "type": "quantitative", "scale": {"domain": [0, 155]}}, "y2": {"field": "yk"}}},
    {"transform": [{"filter": "isValid(datum.kx)"}], "mark": {"type": "rule", "style": "lead"},
     "encoding": {"x": {"field": "ax", "type": "quantitative", "scale": {"domain": [0, 100]}}, "x2": {"field": "ex"},
                  "y": {"field": "yk", "type": "quantitative", "scale": {"domain": [0, 155]}}, "y2": {"field": "ye"}}},
    {"transform": [{"filter": "datum.al === 'c'"}], "mark": {"type": "text", "style": "lbl", "align": "center"},
     "encoding": {"x": {"field": "lx", "type": "quantitative", "scale": {"domain": [0, 100]}},
                  "y": {"field": "yt", "type": "quantitative", "scale": {"domain": [0, 155]}}, "text": {"field": "lab"}}},
    {"transform": [{"filter": "datum.idx === 1"}], "mark": {"type": "text", "style": "let", "dx": -22},
     "encoding": {"x": {"field": "f0", "type": "quantitative", "scale": {"domain": [0, 100]}},
                  "y": {"field": "ty", "type": "quantitative", "scale": {"domain": [0, 155]}}, "text": {"value": "H"}}},
    {"transform": [{"filter": "datum.idx === 1"}], "mark": {"type": "text", "style": "ttl", "dx": -4},
     "encoding": {"x": {"field": "f0", "type": "quantitative", "scale": {"domain": [0, 100]}},
                  "y": {"field": "ty", "type": "quantitative", "scale": {"domain": [0, 155]}}, "text": {"value": "Modes of inheritance"}}},
    {"transform": [{"filter": "datum.idx === 1"}], "mark": {"type": "text", "style": "note", "dx": 121},
     "encoding": {"x": {"field": "f0", "type": "quantitative", "scale": {"domain": [0, 100]}},
                  "y": {"field": "ty", "type": "quantitative", "scale": {"domain": [0, 155]}}, "text": {"value": "(Supp. Table 1)"}}}
  ]
},
{"width": 61, "height": 155, "data": {"values": []}, "mark": "point"},
{
  "width": 323, "height": 155,
  "data": {"name": "bars"},
  "transform": [
    {"filter": "datum.panel === 'I'"},
    {"stack": "pct", "groupby": ["panel"], "sort": [{"field": "idx", "order": "ascending"}], "as": ["x0", "x1"]},
    {"calculate": "isValid(datum.at) ? datum.at : (datum.x0 + datum.x1) / 2", "as": "ax"},
    {"calculate": "isValid(datum.tx) ? datum.tx : datum.ax", "as": "lx"},
    {"calculate": "30 * (datum.tier - 1)", "as": "up"},
    {"calculate": "(isValid(datum.kx) ? 25.5 : 29.5) + datum.up", "as": "yk"},
    {"calculate": "datum.cat + '\\n' + datum.plab + '\\n(n=' + datum.n + ')'", "as": "lab"},
    {"calculate": "31 + datum.up + 9.6 * (length(split(datum.lab, '\\n')) - 1)", "as": "yt"},
    {"calculate": "0", "as": "f0"}, {"calculate": "100", "as": "f1"},
    {"calculate": "3.5", "as": "g0"}, {"calculate": "21.5", "as": "g1"},
    {"calculate": "4", "as": "b0"}, {"calculate": "19.5", "as": "b1"},
    {"calculate": "99.5", "as": "ty"}
  ],
  "layer": [
    {"transform": [{"filter": "datum.idx === 1"}], "mark": {"type": "rect", "color": "#a3a3a3"},
     "encoding": {"x": {"field": "f0", "type": "quantitative", "scale": {"domain": [0, 100]}}, "x2": {"field": "f1"},
                  "y": {"field": "g0", "type": "quantitative", "scale": {"domain": [0, 155]}}, "y2": {"field": "g1"}}},
    {"mark": {"type": "rect", "stroke": "#000000", "strokeWidth": 0.8},
     "encoding": {
       "x": {"field": "x0", "type": "quantitative", "scale": {"domain": [0, 100]}, "axis": {"values": [0, 25, 50, 75, 100], "title": "Probands (%)", "tickSize": 3.5, "labelPadding": 1, "titlePadding": 1, "domainWidth": 1.4}},
       "x2": {"field": "x1"},
       "y": {"field": "b0", "type": "quantitative", "scale": {"domain": [0, 155]}, "axis": {"values": [11.75], "labels": false, "domain": false, "tickSize": 3, "title": null}},
       "y2": {"field": "b1"},
       "color": {"field": "idx", "type": "nominal", "scale": {"domain": [1, 2], "range": ["#000000", "#ffffff"]}, "legend": null}}},
    {"mark": {"type": "rule", "style": "lead"},
     "encoding": {"x": {"field": "ax", "type": "quantitative", "scale": {"domain": [0, 100]}},
                  "y": {"field": "g1", "type": "quantitative", "scale": {"domain": [0, 155]}}, "y2": {"field": "yk"}}},
    {"transform": [{"filter": "datum.al === 'c'"}], "mark": {"type": "text", "style": "lbl", "align": "center"},
     "encoding": {"x": {"field": "lx", "type": "quantitative", "scale": {"domain": [0, 100]}},
                  "y": {"field": "yt", "type": "quantitative", "scale": {"domain": [0, 155]}}, "text": {"field": "lab"}}},
    {"transform": [{"filter": "datum.idx === 1"}], "mark": {"type": "text", "style": "let", "dx": -23},
     "encoding": {"x": {"field": "f0", "type": "quantitative", "scale": {"domain": [0, 100]}},
                  "y": {"field": "ty", "type": "quantitative", "scale": {"domain": [0, 155]}}, "text": {"value": "I"}}},
    {"transform": [{"filter": "datum.idx === 1"}], "mark": {"type": "text", "style": "ttl", "dx": -3.3},
     "encoding": {"x": {"field": "f0", "type": "quantitative", "scale": {"domain": [0, 100]}},
                  "y": {"field": "ty", "type": "quantitative", "scale": {"domain": [0, 155]}}, "text": {"value": "Sporadic vs. Familial"}}},
    {"transform": [{"filter": "datum.idx === 1"}], "mark": {"type": "text", "style": "note", "dx": 119.4},
     "encoding": {"x": {"field": "f0", "type": "quantitative", "scale": {"domain": [0, 100]}},
                  "y": {"field": "ty", "type": "quantitative", "scale": {"domain": [0, 155]}}, "text": {"value": "(Supp. Fig. 4; Supp. Tables 1-2)"}}}
  ]
},
{"width": 24, "height": 125.5, "data": {"values": []}, "mark": "point"},
{
  "width": 325, "height": 125.5,
  "data": {"name": "bars"},
  "transform": [
    {"filter": "datum.panel === 'J'"},
    {"stack": "pct", "groupby": ["panel"], "sort": [{"field": "idx", "order": "ascending"}], "as": ["x0", "x1"]},
    {"calculate": "isValid(datum.at) ? datum.at : (datum.x0 + datum.x1) / 2", "as": "ax"},
    {"calculate": "isValid(datum.tx) ? datum.tx : datum.ax", "as": "lx"},
    {"calculate": "30 * (datum.tier - 1)", "as": "up"},
    {"calculate": "(isValid(datum.kx) ? 25.5 : 29.5) + datum.up", "as": "yk"},
    {"calculate": "datum.cat + '\\n' + datum.plab + '\\n(n=' + datum.n + ')'", "as": "lab"},
    {"calculate": "31 + datum.up + 9.6 * (length(split(datum.lab, '\\n')) - 1)", "as": "yt"},
    {"calculate": "0", "as": "f0"}, {"calculate": "100", "as": "f1"},
    {"calculate": "3.5", "as": "g0"}, {"calculate": "21.5", "as": "g1"},
    {"calculate": "4", "as": "b0"}, {"calculate": "19.5", "as": "b1"},
    {"calculate": "81", "as": "ty"}
  ],
  "layer": [
    {"transform": [{"filter": "datum.idx === 1"}], "mark": {"type": "rect", "color": "#a3a3a3"},
     "encoding": {"x": {"field": "f0", "type": "quantitative", "scale": {"domain": [0, 100]}}, "x2": {"field": "f1"},
                  "y": {"field": "g0", "type": "quantitative", "scale": {"domain": [0, 125.5]}}, "y2": {"field": "g1"}}},
    {"mark": {"type": "rect", "stroke": "#000000", "strokeWidth": 0.8},
     "encoding": {
       "x": {"field": "x0", "type": "quantitative", "scale": {"domain": [0, 100]}, "axis": {"values": [0, 25, 50, 75, 100], "title": "Probands (%)", "tickSize": 3.5, "labelPadding": 1, "titlePadding": 1, "domainWidth": 1.4}},
       "x2": {"field": "x1"},
       "y": {"field": "b0", "type": "quantitative", "scale": {"domain": [0, 125.5]}, "axis": {"values": [11.75], "labels": false, "domain": false, "tickSize": 3, "title": null}},
       "y2": {"field": "b1"},
       "color": {"field": "idx", "type": "nominal", "scale": {"domain": [1, 2], "range": ["#000000", "#ffffff"]}, "legend": null}}},
    {"mark": {"type": "rule", "style": "lead"},
     "encoding": {"x": {"field": "ax", "type": "quantitative", "scale": {"domain": [0, 100]}},
                  "y": {"field": "g1", "type": "quantitative", "scale": {"domain": [0, 125.5]}}, "y2": {"field": "yk"}}},
    {"transform": [{"filter": "datum.al === 'c'"}], "mark": {"type": "text", "style": "lbl", "align": "center"},
     "encoding": {"x": {"field": "lx", "type": "quantitative", "scale": {"domain": [0, 100]}},
                  "y": {"field": "yt", "type": "quantitative", "scale": {"domain": [0, 125.5]}}, "text": {"field": "lab"}}},
    {"transform": [{"filter": "datum.idx === 1"}], "mark": {"type": "text", "style": "let", "dx": -22},
     "encoding": {"x": {"field": "f0", "type": "quantitative", "scale": {"domain": [0, 100]}},
                  "y": {"field": "ty", "type": "quantitative", "scale": {"domain": [0, 125.5]}}, "text": {"value": "J"}}},
    {"transform": [{"filter": "datum.idx === 1"}], "mark": {"type": "text", "style": "ttl", "dx": -4},
     "encoding": {"x": {"field": "f0", "type": "quantitative", "scale": {"domain": [0, 100]}},
                  "y": {"field": "ty", "type": "quantitative", "scale": {"domain": [0, 125.5]}}, "text": {"value": "Syndromic vs. Isolated"}}},
    {"transform": [{"filter": "datum.idx === 1"}], "mark": {"type": "text", "style": "note", "dx": 130},
     "encoding": {"x": {"field": "f0", "type": "quantitative", "scale": {"domain": [0, 100]}},
                  "y": {"field": "ty", "type": "quantitative", "scale": {"domain": [0, 125.5]}}, "text": {"value": "(Supp. Fig. 5, Supp. Tables 1-2)"}}}
  ]
},
{"width": 61, "height": 125.5, "data": {"values": []}, "mark": "point"},
{
  "width": 323, "height": 125.5,
  "data": {"name": "bars"},
  "transform": [
    {"filter": "datum.panel === 'K'"},
    {"stack": "pct", "groupby": ["panel"], "sort": [{"field": "idx", "order": "ascending"}], "as": ["x0", "x1"]},
    {"calculate": "isValid(datum.at) ? datum.at : (datum.x0 + datum.x1) / 2", "as": "ax"},
    {"calculate": "isValid(datum.tx) ? datum.tx : datum.ax", "as": "lx"},
    {"calculate": "30 * (datum.tier - 1)", "as": "up"},
    {"calculate": "(isValid(datum.kx) ? 25.5 : 29.5) + datum.up", "as": "yk"},
    {"calculate": "datum.cat + '\\n' + datum.plab + '\\n(n=' + datum.n + ')'", "as": "lab"},
    {"calculate": "31 + datum.up + 9.6 * (length(split(datum.lab, '\\n')) - 1)", "as": "yt"},
    {"calculate": "0", "as": "f0"}, {"calculate": "100", "as": "f1"},
    {"calculate": "3.5", "as": "g0"}, {"calculate": "21.5", "as": "g1"},
    {"calculate": "4", "as": "b0"}, {"calculate": "19.5", "as": "b1"},
    {"calculate": "81", "as": "ty"}
  ],
  "layer": [
    {"transform": [{"filter": "datum.idx === 1"}], "mark": {"type": "rect", "color": "#a3a3a3"},
     "encoding": {"x": {"field": "f0", "type": "quantitative", "scale": {"domain": [0, 100]}}, "x2": {"field": "f1"},
                  "y": {"field": "g0", "type": "quantitative", "scale": {"domain": [0, 125.5]}}, "y2": {"field": "g1"}}},
    {"mark": {"type": "rect", "stroke": "#000000", "strokeWidth": 0.8},
     "encoding": {
       "x": {"field": "x0", "type": "quantitative", "scale": {"domain": [0, 100]}, "axis": {"values": [0, 25, 50, 75, 100], "title": "Probands (%)", "tickSize": 3.5, "labelPadding": 1, "titlePadding": 1, "domainWidth": 1.4}},
       "x2": {"field": "x1"},
       "y": {"field": "b0", "type": "quantitative", "scale": {"domain": [0, 125.5]}, "axis": {"values": [11.75], "labels": false, "domain": false, "tickSize": 3, "title": null}},
       "y2": {"field": "b1"},
       "color": {"field": "idx", "type": "nominal", "scale": {"domain": [1, 2, 3, 4], "range": ["#FDE725", "#35B779", "#31688E", "#440154"]}, "legend": null}}},
    {"mark": {"type": "rule", "style": "lead"},
     "encoding": {"x": {"field": "ax", "type": "quantitative", "scale": {"domain": [0, 100]}},
                  "y": {"field": "g1", "type": "quantitative", "scale": {"domain": [0, 125.5]}}, "y2": {"field": "yk"}}},
    {"transform": [{"filter": "datum.al === 'c'"}], "mark": {"type": "text", "style": "lbl", "align": "center"},
     "encoding": {"x": {"field": "lx", "type": "quantitative", "scale": {"domain": [0, 100]}},
                  "y": {"field": "yt", "type": "quantitative", "scale": {"domain": [0, 125.5]}}, "text": {"field": "lab"}}},
    {"transform": [{"filter": "datum.idx === 1"}], "mark": {"type": "text", "style": "let", "dx": -23},
     "encoding": {"x": {"field": "f0", "type": "quantitative", "scale": {"domain": [0, 100]}},
                  "y": {"field": "ty", "type": "quantitative", "scale": {"domain": [0, 125.5]}}, "text": {"value": "K"}}},
    {"transform": [{"filter": "datum.idx === 1"}], "mark": {"type": "text", "style": "ttl", "dx": -3.3},
     "encoding": {"x": {"field": "f0", "type": "quantitative", "scale": {"domain": [0, 100]}},
                  "y": {"field": "ty", "type": "quantitative", "scale": {"domain": [0, 125.5]}}, "text": {"value": "Subtypes"}}},
    {"transform": [{"filter": "datum.idx === 1"}], "mark": {"type": "text", "style": "note", "dx": 54},
     "encoding": {"x": {"field": "f0", "type": "quantitative", "scale": {"domain": [0, 100]}},
                  "y": {"field": "ty", "type": "quantitative", "scale": {"domain": [0, 125.5]}}, "text": {"value": "(Supp. Fig. 6, Supp. Tables 1-2)"}}}
  ]
}
]
}
